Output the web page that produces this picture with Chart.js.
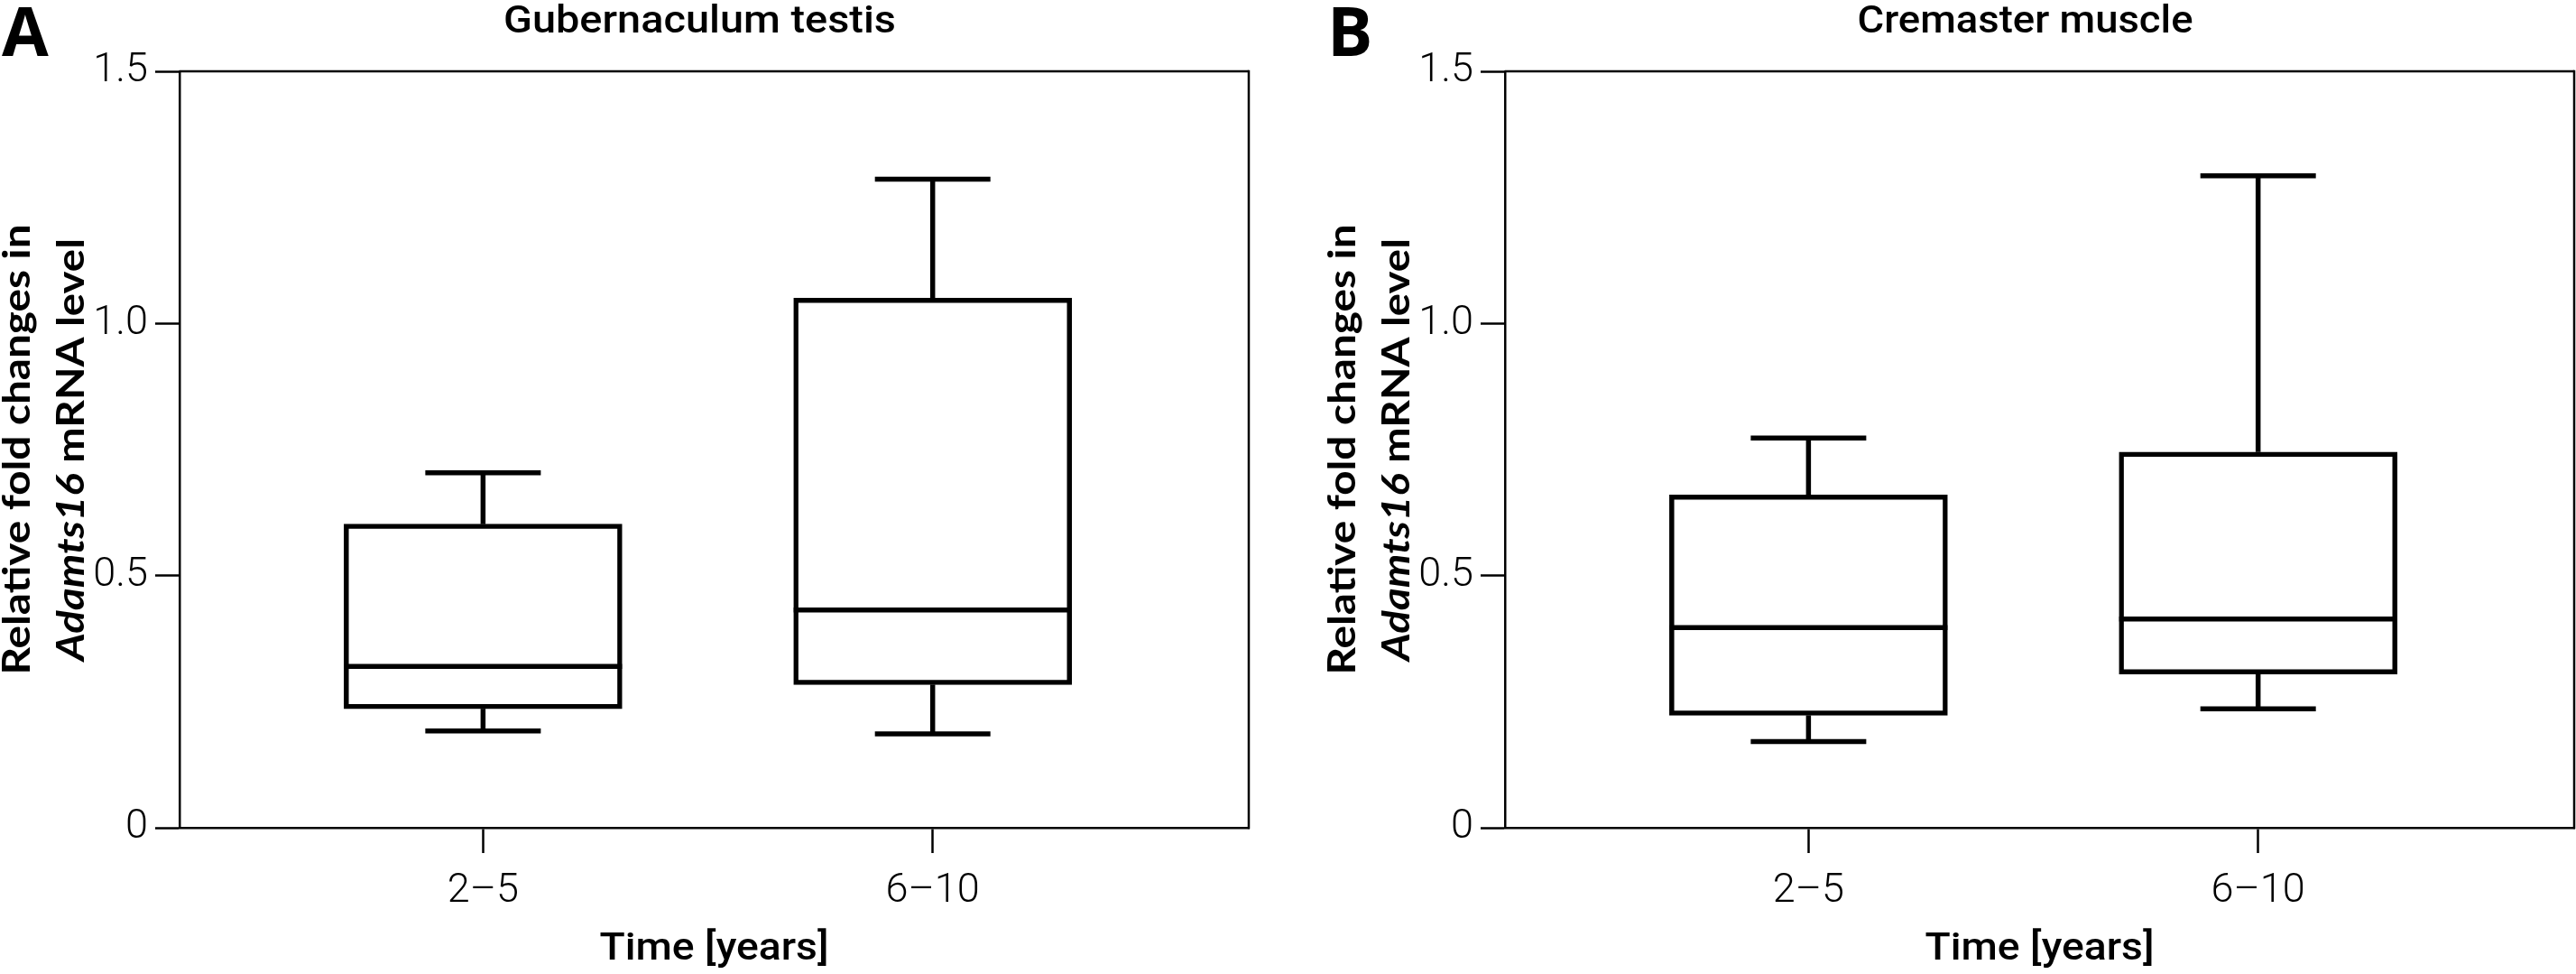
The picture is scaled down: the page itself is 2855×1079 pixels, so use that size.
<!DOCTYPE html>
<html>
<head>
<meta charset="utf-8">
<script src="https://cdn.jsdelivr.net/npm/chart.js@4.4.1/dist/chart.umd.min.js"></script>
<style>
  html, body { margin: 0; padding: 0; background: #fff; }
  body { width: 2855px; height: 1079px; position: relative; overflow: hidden; }
  canvas { position: absolute; top: 0; }
  #chartA { left: 0; }
  #chartB { left: 1427px; }
</style>
</head>
<body>
<canvas id="chartA" width="1427" height="1079"></canvas>
<canvas id="chartB" width="1428" height="1079"></canvas>
<script>
  const categories = ["2–5", "6–10"];
  const xPositions = [1, 2];
  const yTickValues = [0, 0.5, 1.0, 1.5];
  const yTickLabels = ["0", "0.5", "1.0", "1.5"];

  // A: gubernaculum testis
  const gubMin = [0.192, 0.186];
  const gubQ1 = [0.236, 0.284];
  const gubMedian = [0.320, 0.432];
  const gubQ3 = [0.602, 1.050];
  const gubMax = [0.704, 1.286];

  // B: cremaster muscle
  const creMin = [0.171, 0.236];
  const creQ1 = [0.223, 0.305];
  const creMedian = [0.397, 0.414];
  const creQ3 = [0.660, 0.745];
  const creMax = [0.773, 1.293];

  const LINE = 5.5;
  const FRAME = 2.5;
  const CAP_WIDTH = 128;
  const BOX_WIDTH = 308;
  const TICK_FONT = "'Liberation Sans Narrow', 'Roboto', sans-serif";

  function strokeLine(ctx, x1, y1, x2, y2) {
    ctx.beginPath();
    ctx.moveTo(x1, y1);
    ctx.lineTo(x2, y2);
    ctx.stroke();
  }

  // draws text parts so that the caps are capHeight tall and the whole run is width wide
  function drawFitted(ctx, parts, x, y, capHeight, width, opts) {
    opts = opts || {};
    ctx.save();
    ctx.translate(x, y);
    if (opts.rotate) {
      ctx.rotate(-Math.PI / 2);
    }
    ctx.font = parts[0].font(100);
    const capRatio = ctx.measureText("H").actualBoundingBoxAscent / 100;
    const size = capHeight / capRatio;
    let total = 0;
    parts.forEach(function (p) {
      ctx.font = p.font(size);
      p.w = ctx.measureText(p.text).width;
      total += p.w;
    });
    const sx = width ? width / total : 1;
    ctx.scale(sx, 1);
    ctx.fillStyle = "#000";
    ctx.textBaseline = "alphabetic";
    ctx.textAlign = "left";
    let cx = opts.alignLeft ? 0 : -total / 2;
    parts.forEach(function (p) {
      ctx.font = p.font(size);
      ctx.fillText(p.text, cx, 0);
      cx += p.w;
    });
    ctx.restore();
  }

  const boxWhiskers = {
    id: "boxWhiskers",
    afterDatasetsDraw: function (chart) {
      const stats = chart.options.plugins.boxWhiskers;
      const meta = chart.getDatasetMeta(0);
      const xs = chart.scales.x;
      const ys = chart.scales.y;
      const ctx = chart.ctx;
      ctx.save();
      ctx.strokeStyle = "#000";
      ctx.lineWidth = LINE;
      ctx.lineCap = "butt";
      meta.data.forEach(function (bar, i) {
        const cx = xs.getPixelForValue(xPositions[i]);
        const half = bar.width / 2;
        const yMed = ys.getPixelForValue(stats.median[i]);
        const yQ1 = ys.getPixelForValue(stats.q1[i]);
        const yQ3 = ys.getPixelForValue(stats.q3[i]);
        const yMin = ys.getPixelForValue(stats.min[i]);
        const yMax = ys.getPixelForValue(stats.max[i]);
        strokeLine(ctx, cx - half, yMed, cx + half, yMed);
        strokeLine(ctx, cx, yQ3, cx, yMax);
        strokeLine(ctx, cx - CAP_WIDTH / 2, yMax, cx + CAP_WIDTH / 2, yMax);
        strokeLine(ctx, cx, yQ1, cx, yMin);
        strokeLine(ctx, cx - CAP_WIDTH / 2, yMin, cx + CAP_WIDTH / 2, yMin);
      });
      ctx.restore();
    },
  };

  const panelText = {
    id: "panelText",
    afterDraw: function (chart) {
      const o = chart.options.plugins.panelText;
      const a = chart.chartArea;
      const ctx = chart.ctx;
      const mid = (a.left + a.right) / 2;

      // top and right sides of the frame
      ctx.save();
      ctx.strokeStyle = "#000";
      ctx.lineWidth = FRAME;
      strokeLine(ctx, a.left, a.top, a.right, a.top);
      strokeLine(ctx, a.right, a.top - FRAME / 2, a.right, a.bottom + FRAME / 2);
      ctx.restore();

      const letterFont = function (s) { return "700 " + s + "px 'Open Sans', sans-serif"; };
      const bold = function (s) { return "700 " + s + "px Lato, 'Open Sans', sans-serif"; };
      const boldItalic = function (s) { return "italic 700 " + s + "px Lato, 'Open Sans', sans-serif"; };

      drawFitted(ctx, [{ text: o.letter, font: letterFont }], a.left - 197, 62, 54, null, { alignLeft: true });
      drawFitted(ctx, [{ text: o.title, font: function (s) { return "500 " + s + "px Roboto, sans-serif"; } }],
        mid - 16, 36, 30, o.titleWidth);
      drawFitted(ctx, [{ text: "Relative fold changes in", font: bold }],
        a.left - 166, (a.top + a.bottom) / 2, 30, 499, { rotate: true });
      drawFitted(ctx, [{ text: "Adamts16", font: boldItalic }, { text: " mRNA level", font: bold }],
        a.left - 106, (a.top + a.bottom) / 2, 30, 468, { rotate: true });
      drawFitted(ctx, [{ text: "Time [years]", font: function (s) { return "500 " + s + "px Roboto, sans-serif"; } }],
        mid, 1063, 31, 254);
    },
  };

  function makeChart(id, cfg) {
    return new Chart(document.getElementById(id), {
      type: "bar",
      data: {
        datasets: [{
          data: xPositions.map(function (p, i) {
            return { x: p, y: [cfg.q1[i], cfg.q3[i]] };
          }),
          backgroundColor: "#ffffff",
          borderColor: "#000000",
          borderWidth: LINE,
          borderSkipped: false,
          barThickness: BOX_WIDTH,
        }],
      },
      options: {
        responsive: false,
        animation: false,
        devicePixelRatio: 1,
        layout: { padding: { top: 79, left: 0, right: cfg.padRight, bottom: 0 } },
        plugins: {
          legend: { display: false },
          tooltip: { enabled: false },
          boxWhiskers: { min: cfg.min, q1: cfg.q1, median: cfg.median, q3: cfg.q3, max: cfg.max },
          panelText: {
            letter: cfg.letter,
            title: cfg.title,
            titleWidth: cfg.titleWidth,
          },
        },
        scales: {
          x: {
            type: "linear",
            min: 0.325,
            max: 2.703,
            offset: false,
            afterFit: function (s) { s.height = 162; },
            afterBuildTicks: function (s) {
              s.ticks = xPositions.map(function (v) { return { value: v }; });
            },
            ticks: {
              callback: function (v) { return categories[xPositions.indexOf(v)]; },
              font: { family: TICK_FONT, size: 45, weight: 300 },
              color: "#000",
              padding: 16,
              maxRotation: 0,
            },
            grid: { drawOnChartArea: false, tickLength: 28, tickWidth: FRAME, tickColor: "#000", offset: false },
            border: { color: "#000", width: FRAME },
          },
          y: {
            min: 0,
            max: 1.5,
            afterFit: function (s) { s.width = cfg.axisWidth; },
            afterBuildTicks: function (s) {
              s.ticks = yTickValues.map(function (v) { return { value: v }; });
            },
            ticks: {
              callback: function (v) { return yTickLabels[yTickValues.indexOf(v)]; },
              font: { family: TICK_FONT, size: 45, weight: 300 },
              color: "#000",
              padding: 8,
            },
            grid: { drawOnChartArea: false, tickLength: 27, tickWidth: FRAME, tickColor: "#000" },
            border: { color: "#000", width: FRAME },
          },
        },
      },
      plugins: [boxWhiskers, panelText],
    });
  }

  makeChart("chartA", {
    min: gubMin, q1: gubQ1, median: gubMedian, q3: gubQ3, max: gubMax,
    letter: "A", title: "Gubernaculum testis", titleWidth: 435,
    axisWidth: 199, padRight: 43,
  });
  makeChart("chartB", {
    min: creMin, q1: creQ1, median: creMedian, q3: creQ3, max: creMax,
    letter: "B", title: "Cremaster muscle", titleWidth: 372,
    axisWidth: 241, padRight: 2,
  });
</script>
</body>
</html>
